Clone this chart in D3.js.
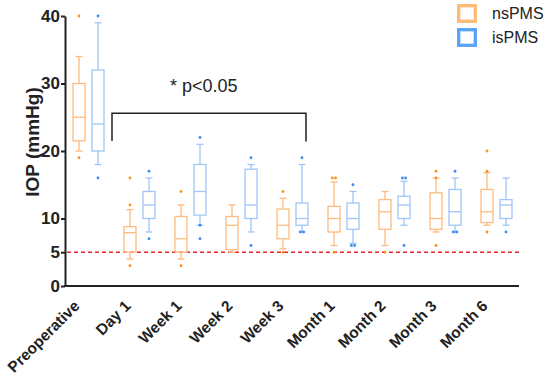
<!DOCTYPE html>
<html>
<head>
<meta charset="utf-8">
<script src="https://cdn.jsdelivr.net/npm/d3@7"></script>
<style>
  body { margin: 0; background: #fff; }
  svg { font-family: "Liberation Sans", Arial, sans-serif; }
</style>
</head>
<body>
<svg id="svg" width="550" height="381"></svg>
<script>
let width = 550;
let height = 381;

let categories = ["Preoperative", "Day 1", "Week 1", "Week 2", "Week 3", "Month 1", "Month 2", "Month 3", "Month 6"];
let yTicks = [0, 5, 10, 20, 30, 40];

// nsPMS (orange)
let nsLow    = [20, 4, 4, 5, 5.5, 6, 6, 8, 9];
let nsQ1     = [21.5, 5, 5, 5.4, 7, 8, 8.4, 8.4, 9.4];
let nsMedian = [25, 7.9, 7, 9, 9, 10, 11, 10, 11];
let nsQ3     = [30, 8.8, 10.3, 10.3, 11.4, 11.8, 12.8, 13.8, 14.3];
let nsHigh   = [34, 11.3, 12, 12, 13, 15.4, 14, 16, 16.8];
let nsOut    = [[40, 19], [16, 12, 3], [14, 3], [], [14, 5], [16, 16, 5], [5], [17, 16, 6], [20, 17, 8]];

// isPMS (blue)
let isLow    = [18, 8, 9, 8, 8, 6.3, 9, 8, 9];
let isQ1     = [20, 10, 10.5, 10, 9, 8.4, 10, 9, 10];
let isMedian = [24, 12, 14, 12, 10, 10, 12, 11, 12];
let isQ3     = [32, 14, 18, 17.3, 12.3, 12.3, 13.3, 14.3, 12.8];
let isHigh   = [39, 16, 21, 18, 18, 14, 15.5, 16, 16];
let isOut    = [[40, 16], [17, 7], [22, 9, 7], [19, 6], [19, 8, 8], [15, 6, 6], [16, 16, 6], [17, 8, 8], [8]];

let seriesNames = ["nsPMS", "isPMS"];
let boxColors = ["#fdbb7f", "#9fc6f5"];
let dotColors = ["#f7931e", "#3b8cf2"];
let legendColors = ["#ffba78", "#5aa2f5"];

let svg = d3.select("#svg");

let x = d3.scaleBand().domain(categories).range([63, 522]);
let y = d3.scaleLinear().domain([0, 40]).range([286, 16]);
let axisX = 65;

// red dashed reference line at 5
svg.append("line")
    .attr("x1", axisX + 2).attr("x2", 519)
    .attr("y1", y(5)).attr("y2", y(5))
    .style("stroke", "#e8262a")
    .style("stroke-width", 1.5)
    .style("stroke-dasharray", "4,3");

function buildSeries(low, q1, med, q3, high, out) {
    return categories.map((c, i) => ({
        cat: c, low: low[i], q1: q1[i], med: med[i], q3: q3[i], high: high[i], out: out[i]
    }));
}

let allSeries = [
    buildSeries(nsLow, nsQ1, nsMedian, nsQ3, nsHigh, nsOut),
    buildSeries(isLow, isQ1, isMedian, isQ3, isHigh, isOut)
];

let boxW = 12;
let offsets = [-9.5, 9.5];

allSeries.forEach((series, s) => {
    let g = svg.append("g");
    let col = boxColors[s];
    let cx = d => x(d.cat) + x.bandwidth() / 2 + offsets[s];

    let grp = g.selectAll("g")
        .data(series)
        .enter()
        .append("g");

    // whiskers
    grp.append("line")
        .attr("x1", cx).attr("x2", cx)
        .attr("y1", d => y(d.q3)).attr("y2", d => y(d.high))
        .style("stroke", col).style("stroke-width", 1.3);
    grp.append("line")
        .attr("x1", cx).attr("x2", cx)
        .attr("y1", d => y(d.q1)).attr("y2", d => y(d.low))
        .style("stroke", col).style("stroke-width", 1.3);
    // caps
    grp.append("line")
        .attr("x1", d => cx(d) - 3.5).attr("x2", d => cx(d) + 3.5)
        .attr("y1", d => y(d.high)).attr("y2", d => y(d.high))
        .style("stroke", col).style("stroke-width", 1.3);
    grp.append("line")
        .attr("x1", d => cx(d) - 3.5).attr("x2", d => cx(d) + 3.5)
        .attr("y1", d => y(d.low)).attr("y2", d => y(d.low))
        .style("stroke", col).style("stroke-width", 1.3);
    // box
    grp.append("rect")
        .attr("x", d => cx(d) - boxW / 2)
        .attr("width", boxW)
        .attr("y", d => y(d.q3))
        .attr("height", d => y(d.q1) - y(d.q3))
        .style("fill", "none")
        .style("stroke", col).style("stroke-width", 1.3);
    // median
    grp.append("line")
        .attr("x1", d => cx(d) - boxW / 2).attr("x2", d => cx(d) + boxW / 2)
        .attr("y1", d => y(d.med)).attr("y2", d => y(d.med))
        .style("stroke", col).style("stroke-width", 1.3);
    // outliers (repeated values drawn side by side)
    grp.each(function(d) {
        let counts = {};
        d.out.forEach(v => counts[v] = (counts[v] || 0) + 1);
        let pts = [];
        Object.keys(counts).forEach(k => {
            let n = counts[k];
            for (let j = 0; j < n; j++) pts.push({v: +k, dx: (j - (n - 1) / 2) * 3.2});
        });
        d3.select(this).selectAll("circle")
            .data(pts)
            .enter()
            .append("circle")
            .attr("cx", p => cx(d) + p.dx)
            .attr("cy", p => y(p.v))
            .attr("r", 1.4)
            .style("fill", dotColors[s]);
    });
});

// axes
let yAxis = d3.axisLeft(y).tickValues(yTicks).tickSize(4).tickSizeOuter(0);
let yg = svg.append("g")
    .attr("transform", `translate(${axisX},0)`)
    .call(yAxis);
yg.select(".domain").style("stroke", "#222").style("stroke-width", 2);
yg.selectAll(".tick line").style("stroke", "#222").style("stroke-width", 2);
yg.selectAll(".tick text")
    .attr("x", -5)
    .style("font-size", "17px")
    .style("font-weight", "bold")
    .style("fill", "#222");

svg.append("line")
    .attr("x1", axisX - 1).attr("x2", 519)
    .attr("y1", y(0)).attr("y2", y(0))
    .style("stroke", "#222").style("stroke-width", 2);

svg.selectAll(".xlab")
    .data(categories)
    .enter()
    .append("text")
    .attr("class", "xlab")
    .attr("transform", d => `translate(${x(d) + x.bandwidth() / 2 - 8},${y(0) + 21}) rotate(-45)`)
    .attr("text-anchor", "end")
    .style("font-size", "15.5px")
    .style("font-weight", "bold")
    .style("fill", "#222")
    .text(d => d);

svg.append("text")
    .attr("transform", "translate(39,142) rotate(-90)")
    .attr("text-anchor", "middle")
    .style("font-size", "19px")
    .style("font-weight", "bold")
    .style("fill", "#222")
    .text("IOP (mmHg)");

// significance bracket
svg.append("path")
    .attr("d", `M${x("Day 1") - 2},${y(21.5)} V${y(25.6)} H${x("Week 3") + 39} V${y(21.4)}`)
    .style("fill", "none")
    .style("stroke", "#222")
    .style("stroke-width", 1.5);
svg.append("text")
    .attr("x", 170).attr("y", 92)
    .style("font-size", "18px")
    .style("fill", "#222")
    .text("* p<0.05");

// legend
let leg = svg.append("g").attr("transform", "translate(457,4)");
seriesNames.forEach((n, i) => {
    leg.append("rect")
        .attr("x", 1.7).attr("y", 1.7 + i * 24)
        .attr("width", 16.6).attr("height", 15.6)
        .style("fill", "none")
        .style("stroke", legendColors[i])
        .style("stroke-width", 3.3);
    leg.append("text")
        .attr("x", 35).attr("y", 15 + i * 24)
        .style("font-size", "16px")
        .style("fill", "#222")
        .text(n);
});
</script>
</body>
</html>
